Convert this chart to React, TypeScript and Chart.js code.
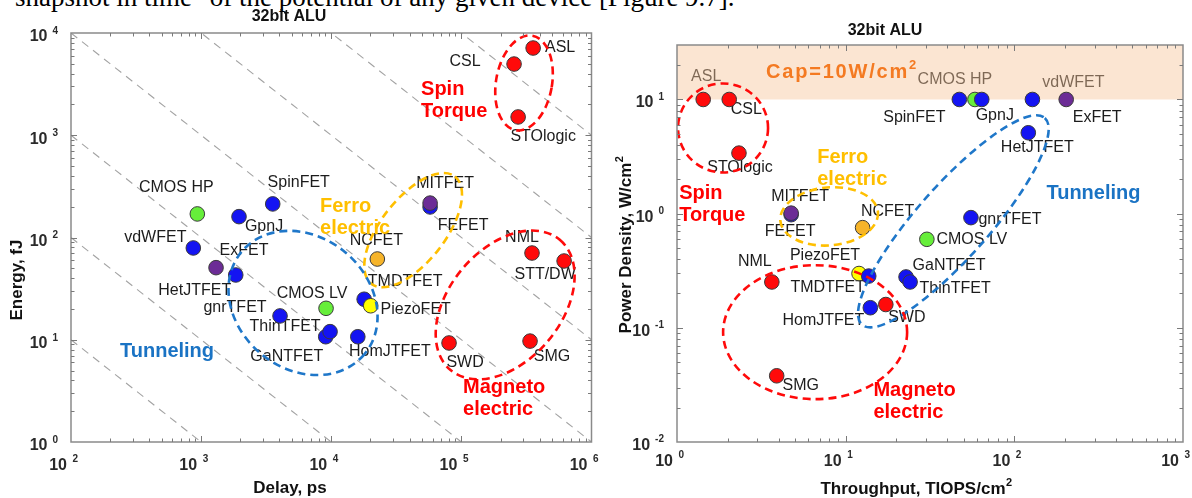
import React, { useEffect, useRef } from 'react';
import { Chart, registerables } from 'chart.js';

Chart.register(...registerables);

const FONT = "'Liberation Sans', Arial, Helvetica, sans-serif";

// ---------------- LEFT PANEL : Energy (fJ) vs Delay (ps) ----------------
const leftDevices = [
  'vdWFET', 'CMOS HP', 'GpnJ', 'SpinFET', 'ExFET', 'HetJTFET', 'gnrTFET', 'CMOS LV',
  'GaNTFET', 'ThinTFET', 'HomJTFET', 'TMDTFET', 'PiezoFET', 'NCFET', 'FEFET', 'MITFET',
  'NML', 'STT/DW', 'SWD', 'SMG', 'ASL', 'CSL', 'STOlogic',
];
const leftDelay = [
  871, 935, 1955, 3550, 1302, 1845, 4040, 9120,
  9070, 9790, 16000, 17900, 20100, 22600, 57500, 57500,
  349000, 616000, 80400, 337000, 356000, 254000, 273000,
];
const leftEnergy = [
  79, 170, 160, 213, 50.7, 43, 17.1, 20.3,
  10.7, 12.0, 10.7, 24.9, 21.5, 61.6, 199, 217,
  70.5, 58.9, 9.3, 9.7, 7130, 4970, 1510,
];
const leftXExponents = [2, 3, 4, 5, 6];
const leftYExponents = [0, 1, 2, 3, 4];
// constant energy-delay-product guide lines, E*D = 10^k
const edpExponents = [3, 4, 5, 6, 7, 8, 9];

// ---------------- RIGHT PANEL : Power density vs Throughput ----------------
const rightDevices = [
  'ASL', 'CSL', 'STOlogic', 'SpinFET', 'CMOS HP', 'GpnJ', 'vdWFET', 'ExFET',
  'HetJTFET', 'FEFET', 'MITFET', 'NCFET', 'gnrTFET', 'CMOS LV', 'NML', 'PiezoFET',
  'TMDTFET', 'GaNTFET', 'ThinTFET', 'HomJTFET', 'SWD', 'SMG',
];
const rightThroughput = [
  1.43, 2.04, 2.33, 47.2, 58.4, 64.1, 128, 203,
  121, 4.75, 4.75, 12.6, 55.3, 30.3, 3.65, 12.0,
  13.7, 22.8, 24.1, 14.0, 17.3, 3.9,
];
const rightPower = [
  10, 10, 3.39, 10, 10, 10, 10, 10,
  5.11, 0.98, 1.01, 0.754, 0.923, 0.596, 0.252, 0.299,
  0.284, 0.279, 0.252, 0.150, 0.160, 0.038,
];
const rightXExponents = [0, 1, 2, 3];
const rightYExponents = [-2, -1, 0, 1];
const powerCap = 10;

// ---------------- styles ----------------
const RED = '#ff0a0a';
const BLUE = '#1414f2';
const GREEN = '#66ee3a';
const PURPLE = '#6c2c96';
const ORANGE = '#f6b42a';
const YELLOW = '#ffff00';
const T_RED = '#ff0000';
const T_GOLD = '#ffbf00';
const T_BLUE = '#1a73c4';
const E_BLUE = '#1f77c9';

const deviceColor: Record<string, string> = {
  'CMOS HP': GREEN, 'CMOS LV': GREEN, ExFET: PURPLE, MITFET: PURPLE,
  NCFET: ORANGE, PiezoFET: YELLOW,
  ASL: RED, CSL: RED, STOlogic: RED, NML: RED, 'STT/DW': RED, SWD: RED, SMG: RED,
};
const colorOf = (d: string) => deviceColor[d] || BLUE;

// label placement (text centre offset from marker, px)
const leftOffsets: Record<string, [number, number]> = {
  'CMOS HP': [-21, -26], SpinFET: [26, -21], GpnJ: [25, 10], vdWFET: [-38, -10],
  ExFET: [28, -17], HetJTFET: [-41, 16], gnrTFET: [-45, -8], 'CMOS LV': [-14, -15],
  ThinTFET: [-45, -5], GaNTFET: [-39, 20], HomJTFET: [32, 15], TMDTFET: [41, -18],
  PiezoFET: [45, 4], NCFET: [-1, -18], MITFET: [15, -20], FEFET: [33, 19],
  NML: [-10, -15], 'STT/DW': [-19, 14], SWD: [16, 20], SMG: [22, 15],
  ASL: [27, 0], CSL: [-49, -2], STOlogic: [25, 20],
};
const rightOffsets: Record<string, [number, number]> = {
  ASL: [3, -23], CSL: [17, 10], STOlogic: [1, 14], 'CMOS HP': [-20, -20],
  SpinFET: [-45, 18], GpnJ: [13, 16], vdWFET: [41, -17], ExFET: [31, 18],
  HetJTFET: [9, 15], MITFET: [9, -17], FEFET: [-1, 17], NCFET: [25, -16],
  gnrTFET: [39, 2], 'CMOS LV': [45, 0], PiezoFET: [-34, -18], NML: [-17, -20],
  TMDTFET: [-41, 12], GaNTFET: [43, -11], ThinTFET: [45, 7], HomJTFET: [-47, 13],
  SWD: [21, 13], SMG: [24, 10],
};

type Ell = { x: number; y: number; rx: number; ry: number; rot: number; color: string };
type Grp = { lines: string[]; x: number; y: number; color: string };

const leftEllipses: Ell[] = [
  { x: 303000, y: 3245, rx: 28, ry: 48, rot: 10, color: RED },
  { x: 42600, y: 118, rx: 68, ry: 32, rot: -52, color: T_GOLD },
  { x: 6070, y: 22.9, rx: 80, ry: 66, rot: 40, color: E_BLUE },
  { x: 217000, y: 21.9, rx: 85, ry: 56, rot: -50, color: RED },
];
const leftGroups: Grp[] = [
  { lines: ['Spin', 'Torque'], x: 49000, y: 2830, color: T_RED },
  { lines: ['Ferro', 'electric'], x: 8200, y: 199, color: T_GOLD },
  { lines: ['Tunneling'], x: 238, y: 7.76, color: T_BLUE },
  { lines: ['Magneto', 'electric'], x: 103000, y: 3.45, color: T_RED },
];
const rightEllipses: Ell[] = [
  { x: 1.875, y: 5.63, rx: 45, ry: 44.5, rot: 0, color: RED },
  { x: 7.98, y: 0.946, rx: 49, ry: 29, rot: -5, color: T_GOLD },
  { x: 43.5, y: 0.857, rx: 138, ry: 36, rot: -48.5, color: E_BLUE },
  { x: 6.59, y: 0.0916, rx: 92, ry: 67, rot: 0, color: RED },
];
const rightGroups: Grp[] = [
  { lines: ['Spin', 'Torque'], x: 1.03, y: 1.51, color: T_RED },
  { lines: ['Ferro', 'electric'], x: 6.78, y: 3.11, color: T_GOLD },
  { lines: ['Tunneling'], x: 155, y: 1.51, color: T_BLUE },
  { lines: ['Magneto', 'electric'], x: 14.6, y: 0.0284, color: T_RED },
];

interface Panel {
  devices: string[]; xs: number[]; ys: number[];
  xMin: number; xMax: number; yMin: number; yMax: number;
  xExp: number[]; yExp: number[];
  padding: { left: number; right: number; top: number; bottom: number };
  offsets: Record<string, [number, number]>;
  ellipses: Ell[]; groups: Grp[];
  title: { x: number; y: number };
  xTitle: { text: string; sup?: string; x: number; y: number };
  yTitle: { text: string; sup?: string; x: number; y: number };
  xLabDy: number; yLabDy: number;
  edp?: number[];
  band?: number;
  cap?: { x: number; y: number };
}

function textSup(ctx: CanvasRenderingContext2D, main: string, sup: string | undefined,
  cx: number, cy: number, mainFont: string, supFont: string, raise: number) {
  ctx.font = mainFont;
  const mw = ctx.measureText(main).width;
  ctx.font = supFont;
  const sw = sup ? ctx.measureText(sup).width : 0;
  const x0 = cx - (mw + sw) / 2;
  ctx.textAlign = 'left';
  ctx.textBaseline = 'middle';
  ctx.font = mainFont;
  ctx.fillText(main, x0, cy);
  if (sup) {
    ctx.font = supFont;
    ctx.fillText(sup, x0 + mw + 0.5, cy - raise);
  }
}

function makePlugin(p: Panel) {
  return {
    id: 'panelOverlay',
    beforeDatasetsDraw(chart: any) {
      const { ctx, chartArea: a } = chart;
      const xs = chart.scales.x, ys = chart.scales.y;
      ctx.save();
      ctx.beginPath();
      ctx.rect(a.left, a.top, a.right - a.left, a.bottom - a.top);
      ctx.clip();
      if (p.edp) {
        ctx.strokeStyle = '#a3a3a3';
        ctx.lineWidth = 1.1;
        ctx.setLineDash([8, 6]);
        for (const k of p.edp) {
          const x1 = p.xMin, x2 = p.xMax;
          ctx.beginPath();
          ctx.moveTo(xs.getPixelForValue(x1), ys.getPixelForValue(Math.pow(10, k) / x1));
          ctx.lineTo(xs.getPixelForValue(x2), ys.getPixelForValue(Math.pow(10, k) / x2));
          ctx.stroke();
        }
        ctx.setLineDash([]);
      }
      // point labels
      ctx.fillStyle = '#1c1c1c';
      ctx.font = `16px ${FONT}`;
      ctx.textAlign = 'center';
      ctx.textBaseline = 'middle';
      p.devices.forEach((d, i) => {
        const off = p.offsets[d] || [0, -16];
        const px = xs.getPixelForValue(p.xs[i]) + off[0];
        const py = ys.getPixelForValue(p.ys[i]) + off[1];
        ctx.fillText(d, px, py);
      });
      if (p.band !== undefined) {
        const yb = ys.getPixelForValue(p.band);
        ctx.fillStyle = 'rgba(246,197,155,0.45)';
        ctx.fillRect(a.left, a.top, a.right - a.left, yb - a.top);
      }
      ctx.restore();
    },
    afterDatasetsDraw(chart: any) {
      const { ctx, chartArea: a } = chart;
      const xs = chart.scales.x, ys = chart.scales.y;
      ctx.save();
      // ellipses
      for (const e of p.ellipses) {
        ctx.save();
        ctx.translate(xs.getPixelForValue(e.x), ys.getPixelForValue(e.y));
        ctx.rotate((e.rot * Math.PI) / 180);
        ctx.beginPath();
        ctx.ellipse(0, 0, e.rx, e.ry, 0, 0, Math.PI * 2);
        ctx.setLineDash([8, 5]);
        ctx.lineWidth = 2.6;
        ctx.strokeStyle = e.color;
        ctx.stroke();
        ctx.restore();
      }
      // group labels
      ctx.font = `bold 20px ${FONT}`;
      ctx.textAlign = 'left';
      ctx.textBaseline = 'middle';
      for (const g of p.groups) {
        ctx.fillStyle = g.color;
        const gx = xs.getPixelForValue(g.x), gy = ys.getPixelForValue(g.y);
        g.lines.forEach((ln, j) => ctx.fillText(ln, gx, gy + j * 22));
      }
      if (p.cap) {
        const cx = xs.getPixelForValue(p.cap.x), cy = ys.getPixelForValue(p.cap.y);
        ctx.fillStyle = '#f47a22';
        ctx.font = `bold 20px ${FONT}`;
        (ctx as any).letterSpacing = '1.8px';
        ctx.fillText('Cap=10W/cm', cx, cy);
        const w = ctx.measureText('Cap=10W/cm').width;
        (ctx as any).letterSpacing = '0px';
        ctx.font = `bold 13px ${FONT}`;
        ctx.fillText('2', cx + w, cy - 7);
      }
      // box
      ctx.strokeStyle = '#8a8a8a';
      ctx.lineWidth = 1.5;
      ctx.setLineDash([]);
      ctx.strokeRect(a.left, a.top, a.right - a.left, a.bottom - a.top);
      // ticks
      ctx.lineWidth = 1;
      ctx.strokeStyle = '#7a7a7a';
      const tickVals = (min: number, max: number) => {
        const out: { v: number; major: boolean }[] = [];
        for (let d = Math.floor(Math.log10(min)); d <= Math.ceil(Math.log10(max)); d++) {
          for (let m = 1; m <= 9; m++) {
            const v = m * Math.pow(10, d);
            if (v > min * 1.0001 && v < max * 0.9999) out.push({ v, major: m === 1 });
          }
        }
        return out;
      };
      ctx.beginPath();
      for (const t of tickVals(p.xMin, p.xMax)) {
        const px = Math.round(xs.getPixelForValue(t.v)) + 0.5;
        const L = t.major ? 6 : 3.5;
        ctx.moveTo(px, a.bottom); ctx.lineTo(px, a.bottom - L);
        ctx.moveTo(px, a.top); ctx.lineTo(px, a.top + L);
      }
      for (const t of tickVals(p.yMin, p.yMax)) {
        const py = Math.round(ys.getPixelForValue(t.v)) + 0.5;
        const L = t.major ? 6 : 3.5;
        ctx.moveTo(a.left, py); ctx.lineTo(a.left + L, py);
        ctx.moveTo(a.right, py); ctx.lineTo(a.right - L, py);
      }
      ctx.stroke();
      // tick labels
      ctx.fillStyle = '#2a2a2a';
      ctx.textBaseline = 'middle';
      for (const e of p.xExp) {
        const px = xs.getPixelForValue(Math.pow(10, e));
        ctx.font = `bold 16px ${FONT}`;
        ctx.textAlign = 'right';
        ctx.fillText('10', px - 4, a.bottom + p.xLabDy);
        ctx.font = `bold 10px ${FONT}`;
        ctx.textAlign = 'left';
        ctx.fillText(String(e), px + 1.5, a.bottom + p.xLabDy - 7);
      }
      for (const e of p.yExp) {
        const py = ys.getPixelForValue(Math.pow(10, e));
        ctx.font = `bold 10px ${FONT}`;
        const es = String(e);
        const ew = ctx.measureText(es).width;
        const expRight = a.left - 13;
        ctx.textAlign = 'left';
        ctx.fillText(es, expRight - ew, py + p.yLabDy - 6);
        ctx.font = `bold 16px ${FONT}`;
        ctx.textAlign = 'right';
        ctx.fillText('10', expRight - ew - 5, py + p.yLabDy);
      }
      // titles
      ctx.fillStyle = '#111';
      textSup(ctx, '32bit ALU', undefined, p.title.x, p.title.y, `bold 16px ${FONT}`, `bold 11px ${FONT}`, 6);
      textSup(ctx, p.xTitle.text, p.xTitle.sup, p.xTitle.x, p.xTitle.y, `bold 17px ${FONT}`, `bold 11px ${FONT}`, 6);
      ctx.save();
      ctx.translate(p.yTitle.x, p.yTitle.y);
      ctx.rotate(-Math.PI / 2);
      textSup(ctx, p.yTitle.text, p.yTitle.sup, 0, 0, `bold 17px ${FONT}`, `bold 11px ${FONT}`, 6);
      ctx.restore();
      ctx.restore();
    },
  };
}

function buildChart(canvas: HTMLCanvasElement, p: Panel) {
  return new Chart(canvas, {
    type: 'scatter',
    data: {
      datasets: [{
        data: p.xs.map((x, i) => ({ x, y: p.ys[i] })),
        backgroundColor: p.devices.map(colorOf),
        borderColor: '#3a3a3a',
        borderWidth: 1,
        pointRadius: 7.3,
        pointHoverRadius: 7.3,
      }],
    },
    options: {
      animation: false,
      responsive: false,
      events: [],
      layout: { padding: p.padding, autoPadding: false } as any,
      plugins: { legend: { display: false }, tooltip: { enabled: false }, title: { display: false } },
      scales: {
        x: { type: 'logarithmic', min: p.xMin, max: p.xMax, display: false },
        y: { type: 'logarithmic', min: p.yMin, max: p.yMax, display: false },
      },
    },
    plugins: [makePlugin(p)],
  } as any);
}

const LEFT_W = 600;

const leftPanel: Panel = {
  devices: leftDevices, xs: leftDelay, ys: leftEnergy,
  xMin: 100, xMax: 1e6, yMin: 1, yMax: 1e4,
  xExp: leftXExponents, yExp: leftYExponents,
  padding: { left: 71, right: LEFT_W - 591.5, top: 33, bottom: 56 },
  offsets: leftOffsets, ellipses: leftEllipses, groups: leftGroups,
  title: { x: 289, y: 17 },
  xTitle: { text: 'Delay, ps', x: 290, y: 488 },
  yTitle: { text: 'Energy, fJ', x: 17, y: 280 },
  xLabDy: 24, yLabDy: 4,
  edp: edpExponents,
};

const rightPanel: Panel = {
  devices: rightDevices, xs: rightThroughput, ys: rightPower,
  xMin: 1, xMax: 1000, yMin: 0.01, yMax: 30,
  xExp: rightXExponents, yExp: rightYExponents,
  padding: { left: 677 - LEFT_W, right: 9, top: 45, bottom: 56 },
  offsets: rightOffsets, ellipses: rightEllipses, groups: rightGroups,
  title: { x: 885 - LEFT_W, y: 31 },
  xTitle: { text: 'Throughput, TIOPS/cm', sup: '2', x: 916 - LEFT_W, y: 489 },
  yTitle: { text: 'Power Density, W/cm', sup: '2', x: 626 - LEFT_W, y: 245 },
  xLabDy: 20, yLabDy: 3.5,
  band: powerCap,
  cap: { x: 3.37, y: 17.3 },
};

export default function App() {
  const leftRef = useRef<HTMLCanvasElement>(null);
  const rightRef = useRef<HTMLCanvasElement>(null);
  useEffect(() => {
    const c1 = buildChart(leftRef.current!, leftPanel);
    const c2 = buildChart(rightRef.current!, rightPanel);
    return () => { c1.destroy(); c2.destroy(); };
  }, []);
  return (
    <div style={{ position: 'absolute', left: 0, top: 0, width: 1192, height: 498, overflow: 'hidden', background: '#fff' }}>
      <div style={{
        position: 'absolute', left: 15, top: -16, whiteSpace: 'nowrap',
        fontFamily: "'Liberation Serif', 'Times New Roman', serif", fontSize: 27, lineHeight: '27px', color: '#000',
      }}>
        snapshot in time" of the potential of any given device [Figure 9.7].
      </div>
      <canvas ref={leftRef} width={LEFT_W} height={498} style={{ position: 'absolute', left: 0, top: 0 }} />
      <canvas ref={rightRef} width={1192 - LEFT_W} height={498} style={{ position: 'absolute', left: LEFT_W, top: 0 }} />
    </div>
  );
}
